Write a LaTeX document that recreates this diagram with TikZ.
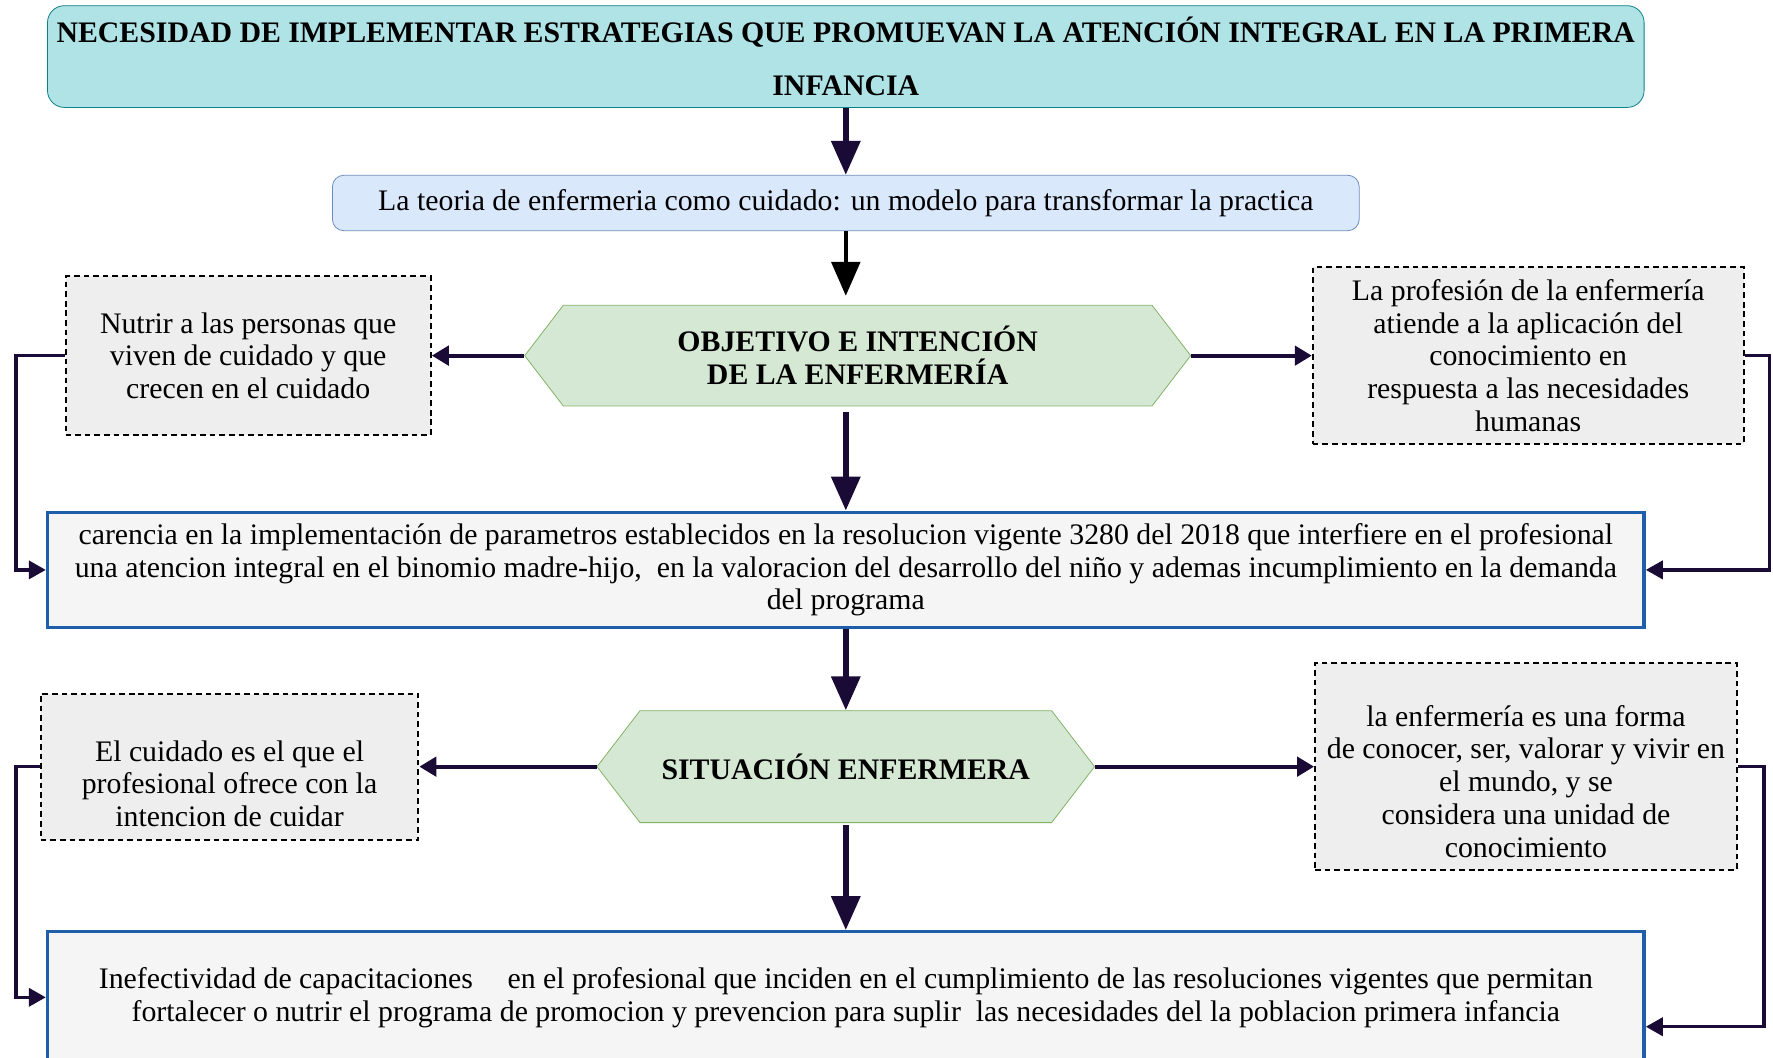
\documentclass[tikz,border=0pt]{standalone}
\usepackage{fontspec}
\setmainfont{Liberation Serif}
\usepackage{tikz}
\usetikzlibrary{calc,
	positioning,
	shapes,
	shapes.symbols,
	arrows,
	arrows.meta}
\definecolor{tealfill}{HTML}{B0E3E6}
\definecolor{tealline}{HTML}{0E8088}
\definecolor{bluefill}{HTML}{DAE8FC}
\definecolor{blueline}{HTML}{6C8EBF}
\definecolor{greenfill}{HTML}{D5E8D4}
\definecolor{greenline}{HTML}{82B366}
\definecolor{grayfill}{HTML}{EEEEEE}
\definecolor{boxfill}{HTML}{F5F5F5}
\definecolor{boxline}{HTML}{1F5EA8}
\definecolor{arrowcol}{HTML}{1A0B36}
\tikzset{
	txt/.style={font=\fontsize{15pt}{16.5pt}\selectfont, align=center, inner sep=0pt},
	titlebox/.style={txt, font=\fontsize{15pt}{26.7pt}\selectfont\bfseries, rectangle, rounded corners=0.3cm, draw=tealline, fill=tealfill},
	theorybox/.style={txt, rectangle, rounded corners=0.2cm, draw=blueline, fill=bluefill},
	hexbox/.style={txt, font=\fontsize{15pt}{16.5pt}\selectfont\bfseries, signal, signal to=east and west, signal pointer angle=105, draw=greenline, fill=greenfill},
	dashbox/.style={txt, rectangle, draw=black, line width=0.035cm, dash pattern=on 0.1cm off 0.07cm, fill=grayfill},
	problembox/.style={txt, rectangle, draw=boxline, line width=0.06cm, fill=boxfill},
	bigarrow/.style={draw=arrowcol, line width=0.1cm, -{Triangle[length=0.6cm, width=0.5cm]}},
	blackarrow/.style={draw=black, line width=0.08cm, -{Triangle[length=0.6cm, width=0.5cm]}},
	sidearrow/.style={draw=arrowcol, line width=0.07cm, -{Triangle[length=0.3cm, width=0.34cm]}},
	looparrow/.style={draw=arrowcol, line width=0.06cm, -{Triangle[length=0.3cm, width=0.32cm]}}
}

\begin{document}
\begin{tikzpicture}
	\useasboundingbox[fill=white] (0, 0) rectangle (31.36, -18.7);
	\node[titlebox, minimum width=28.24cm, minimum height=1.8cm] (need) at (14.96, -1.0) {NECESIDAD DE IMPLEMENTAR ESTRATEGIAS QUE PROMUEVAN LA ATENCIÓN INTEGRAL EN LA PRIMERA\\INFANCIA};
	\node[theorybox, minimum width=18.16cm, minimum height=0.98cm] (theory) at (14.96, -3.59) {La teoria de enfermeria como cuidado: un modelo para transformar la practica};
	\node[hexbox, minimum width=11.78cm, minimum height=1.78cm] (aim) at (15.17, -6.29) {OBJETIVO E INTENCIÓN\\DE LA ENFERMERÍA};
	\node[dashbox, minimum width=6.46cm, minimum height=2.8cm] (nurture) at (4.39, -6.29) {Nutrir a las personas que\\viven de cuidado y que\\crecen en el cuidado};
	\node[dashbox, minimum width=7.62cm, minimum height=3.12cm] (career) at (27.03, -6.29) {La profesión de la enfermería\\atiende a la aplicación del\\conocimiento en\\respuesta a las necesidades\\humanas};
	\node[problembox, minimum width=28.24cm, minimum height=2.04cm] (lack) at (14.96, -10.08) {carencia en la implementación de parametros establecidos en la resolucion vigente 3280 del 2018 que interfiere en el profesional\\una atencion integral en el binomio madre-hijo,\ \ en la valoracion del desarrollo del niño y ademas incumplimiento en la demanda\\del programa};
	\node[hexbox, minimum width=8.8cm, minimum height=1.98cm] (situation) at (14.96, -13.56) {SITUACIÓN ENFERMERA};
	\node[dashbox, minimum width=6.68cm, minimum height=2.58cm] (care) at (4.06, -13.56) {};
	\node[txt] (caretext) at (4.06, -13.86) {El cuidado es el que el\\profesional ofrece con la\\intencion de cuidar};
	\node[dashbox, minimum width=7.46cm, minimum height=3.66cm] (knowing) at (26.99, -13.56) {};
	\node[txt] (knowingtext) at (26.99, -13.82) {la enfermería es una forma\\de conocer, ser, valorar y vivir en\\el mundo, y se\\considera una unidad de\\conocimiento};
	\node[problembox, minimum width=28.24cm, minimum height=2.32cm] (training) at (14.96, -17.64) {Inefectividad de capacitaciones \hspace{0.35cm} en el profesional que inciden en el cumplimiento de las resoluciones vigentes que permitan\\fortalecer o nutrir el programa de promocion y prevencion para suplir\ \ las necesidades del la poblacion primera infancia};
	\coordinate (leftrail) at (0.28, 0);
	\coordinate (rightrail) at (31.3, 0);
	\coordinate (rightrailb) at (31.2, 0);
	\draw[bigarrow] (need.south) -- (theory.north);
	\draw[blackarrow, shorten >=0.16cm] (theory.south) -- (theory.south |- aim.north);
	\draw[sidearrow] (aim.west) -- (nurture.east);
	\draw[sidearrow] (aim.east) -- (career.west);
	\draw[bigarrow, shorten <=0.1cm] (aim.south -| lack.north) -- (lack.north);
	\draw[looparrow] (nurture.west) -- (nurture.west -| leftrail) |- (lack.west);
	\draw[looparrow] (career.east) -- (career.east -| rightrail) |- (lack.east);
	\draw[bigarrow] (lack.south) -- (situation.north);
	\draw[sidearrow] (situation.west) -- (care.east);
	\draw[sidearrow] (situation.east) -- (knowing.west);
	\draw[bigarrow, shorten <=0.04cm] (situation.south) -- (training.north);
	\draw[looparrow] (care.west) -- (care.west -| leftrail) |- (training.west);
	\draw[looparrow] (knowing.east) -- (knowing.east -| rightrailb) |- ($(training.east)+(0, -0.52)$);
\end{tikzpicture}
\end{document}
